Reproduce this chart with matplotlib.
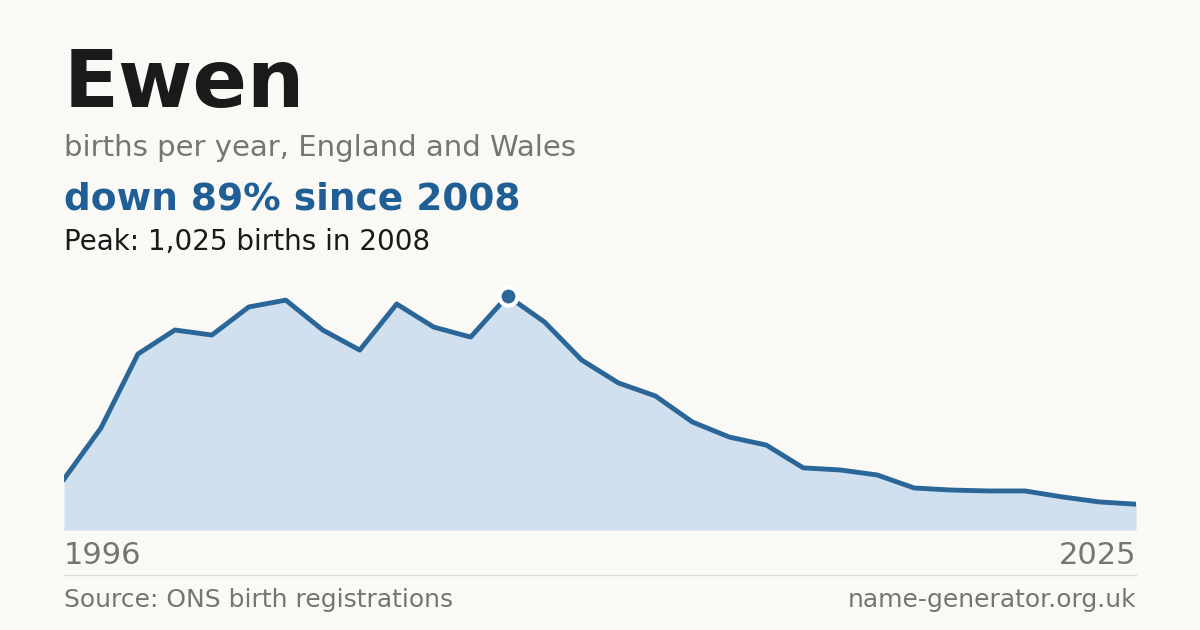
import matplotlib
matplotlib.use("Agg")
import matplotlib.pyplot as plt
plt.rcParams['font.family'] = ['DejaVu Sans']

years = list(range(1996, 2026))
births = [223, 447, 771, 876, 854, 977, 1007, 876, 788, 990, 889, 845, 1025, 911, 745,
          644, 587, 473, 407, 372, 272, 263, 241, 184, 175, 171, 171, 145, 123, 113]
title = "Ewen"
subtitle = "births per year, England and Wales"
headline = "down 89% since 2008"
peak_text = "Peak: 1,025 births in 2008"

BG = "#faf9f5"
W, H = 1200, 630
fig = plt.figure(figsize=(12, 6.3), dpi=100, facecolor=BG)
ax = fig.add_axes([64/W, 1-530/H, (1136-64)/W, 250/H])
ax.set_facecolor(BG)
ax.fill_between(years, births, 0, color="#d0e0ef", lw=0)
ax.plot(years, births, color="#2b6699", lw=3.5, solid_joinstyle="round")
pi = births.index(max(births))
ax.plot(years[pi], births[pi], "o", ms=13, color="#2b6699", mec="white", mew=3, zorder=5)
ax.set_xlim(years[0], years[-1])
ax.set_ylim(0, 1025*250/234)
ax.axis("off")

fig.text(64/W, 1-85/H, title, fontsize=58, fontweight="bold", color="#1a1a1a", va="center")
fig.text(64/W, 1-148/H, subtitle, fontsize=21, color="#777570", va="center")
fig.text(64/W, 1-199/H, headline, fontsize=27, fontweight="bold", color="#1f5f96", va="center")
fig.text(64/W, 1-242/H, peak_text, fontsize=20, color="#1a1a1a", va="center")
fig.text(64/W, 1-556/H, str(years[0]), fontsize=22, color="#777570", va="center")
fig.text(1136/W, 1-556/H, str(years[-1]), fontsize=22, color="#777570", va="center", ha="right")
fig.add_artist(plt.Line2D([64/W, 1136/W], [1-575/H]*2, color="#dddbd5", lw=1))
fig.text(64/W, 1-600/H, "Source: ONS birth registrations", fontsize=18, color="#777570", va="center")
fig.text(1136/W, 1-600/H, "name-generator.org.uk", fontsize=18, color="#777570", va="center", ha="right")
fig.savefig("out.png", facecolor=BG)
